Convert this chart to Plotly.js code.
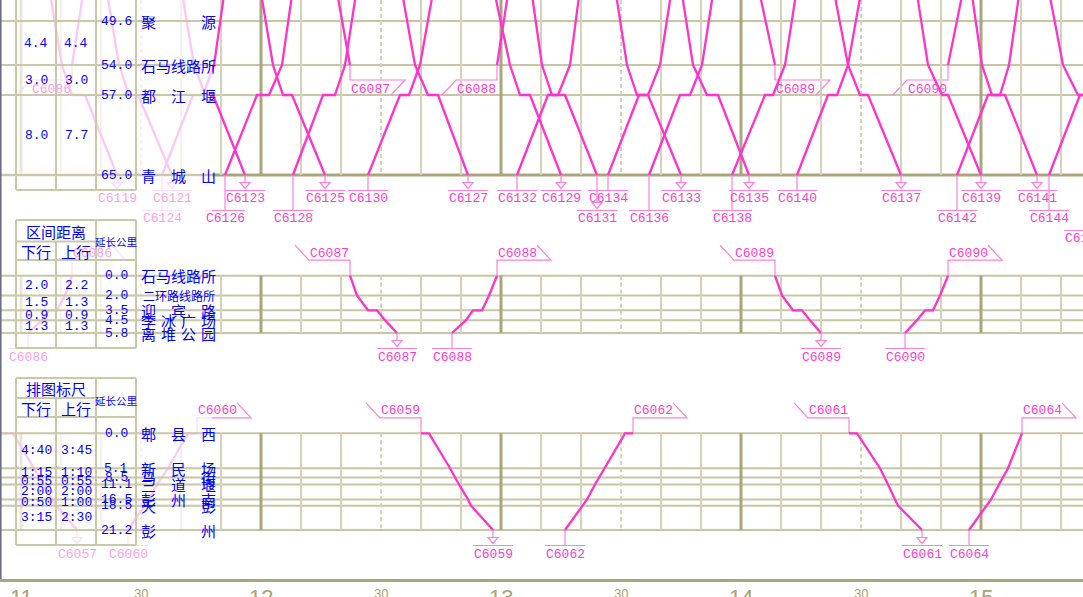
<!DOCTYPE html>
<html>
<head>
<meta charset="utf-8">
<script src="https://cdn.plot.ly/plotly-3.0.1.min.js"></script>
<style>
html,body{margin:0;padding:0;background:#ffffff;overflow:hidden}
#chart{width:1083px;height:597px}
</style>
</head>
<body>
<div id="chart"></div>
<script>
// ======================= DATA =======================
// --- Top panel: 聚源 – 青城山 (km) ---
const topStationNames = ['安德', '聚源', '石马线路所', '都江堰', '青城山'];
const topStationKm    = [45.6, 49.6, 54.0, 57.0, 65.0];
const topDistDown = ['4.4', '3.0', '8.0'];
const topDistUp   = ['4.4', '3.0', '7.7'];
// down trains stop sequence: 安德, 石马线路所, 都江堰(到), 都江堰(发), 青城山
const topDownStops = [0, 2, 3, 3, 4];
const topDownNames = ['C6119','C6121','C6123','C6125','C6127','C6129','C6131','C6133','C6135','C6137','C6139','C6141','C6143'];
const topDownTimes = [
 ['11:06:45','11:10:15','11:12:45','11:16:00','11:24:00'],
 ['11:21:00','11:24:30','11:27:00','11:29:15','11:37:45'],
 ['11:39:45','11:43:15','11:46:00','11:48:00','11:56:00'],
 ['11:59:30','12:03:00','12:05:30','12:07:45','12:16:00'],
 ['12:34:45','12:38:30','12:41:45','12:44:15','12:51:45'],
 ['12:57:45','13:02:15','13:04:45','13:07:15','13:15:00'],
 ['13:07:15','13:10:15','13:12:45','13:16:00','13:24:00'],
 ['13:28:15','13:31:30','13:34:00','13:36:45','13:45:00'],
 ['13:44:45','13:48:00','13:51:30','13:54:15','14:02:00'],
 ['14:22:45','14:26:45','14:29:45','14:31:45','14:40:00'],
 ['14:43:30','14:46:45','14:50:15','14:51:45','15:00:00'],
 ['14:57:15','15:00:15','15:02:45','15:06:00','15:14:00'],
 ['15:16:30','15:20:30','15:24:15','15:26:45','15:34:45']
];
// up trains stop sequence: 青城山, 都江堰(到), 都江堰(发), 石马线路所, 安德
const topUpStops = [4, 3, 3, 2, 0];
const topUpNames = ['C6124','C6126','C6128','C6130','C6132','C6134','C6136','C6138','C6140','C6142','C6144','C6146'];
const topUpTimes = [
 ['11:35:15','11:43:00','11:45:30','11:48:15','11:51:15'],
 ['11:51:00','11:59:00','12:02:00','12:05:15','12:08:15'],
 ['12:08:00','12:15:30','12:18:30','12:21:00','12:24:15'],
 ['12:26:45','12:34:45','12:37:00','12:39:45','12:43:30'],
 ['13:04:00','13:11:45','13:14:15','13:17:15','13:20:00'],
 ['13:26:45','13:34:30','13:36:45','13:39:45','13:43:00'],
 ['13:37:00','13:44:45','13:47:15','13:50:15','13:53:30'],
 ['13:57:45','14:06:00','14:08:00','14:11:00','14:14:15'],
 ['14:14:00','14:21:45','14:24:00','14:26:45','14:30:30'],
 ['14:54:00','15:01:45','15:04:45','15:07:00','15:10:00'],
 ['15:17:00','15:24:45','15:27:15','15:30:15','15:33:30'],
 ['15:25:45','15:33:30','15:36:00','15:39:00','15:42:15']
];
// branch trains (离堆支线) in the top panel
const topBranchDownStops = [0, 2];   // 安德 -> 石马线路所
const topBranchDownNames = ['C6087','C6089'];
const topBranchDownTimes = [['12:18:30','12:22:15'], ['14:04:00','14:08:30']];
const topBranchUpStops = [2, 0];     // 石马线路所 -> 安德
const topBranchUpNames = ['C6086','C6088','C6090'];
const topBranchUpTimes = [['11:12:45','11:16:00'], ['12:59:00','13:02:15'], ['14:51:45','14:56:00']];

// --- Middle panel: 石马线路所 – 离堆公园 (km) ---
const midStationNames = ['石马线路所', '二环路线路所', '迎宾路', '李冰广场', '离堆公园'];
const midStationKm    = [0.0, 2.0, 3.5, 4.5, 5.8];
const midDistDown = ['2.0', '1.5', '0.9', '1.3'];
const midDistUp   = ['2.2', '1.3', '0.9', '1.3'];
const midDownStops = [0, 1, 2, 2, 3, 4];
const midDownNames = ['C6087','C6089'];
const midDownTimes = [
 ['12:22:15','12:24:00','12:26:45','12:29:00','12:31:00','12:34:00'],
 ['14:08:30','14:10:15','14:13:00','14:15:15','14:17:15','14:20:00']
];
const midUpStops = [4, 3, 2, 2, 1, 0];
const midUpNames = ['C6086','C6088','C6090'];
const midUpTimes = [
 ['11:01:45','11:05:15','11:07:00','11:09:00','11:11:00','11:12:45'],
 ['12:47:45','12:51:15','12:53:00','12:55:15','12:57:00','12:59:00'],
 ['14:41:00','14:44:00','14:46:00','14:48:00','14:49:45','14:51:45']
];

// --- Bottom panel: 郫县西 – 彭州 (spaced by 排图标尺) ---
const botStationNames = ['郫县西', '新民场', '马街', '三道堰', '彭州南', '天彭', '彭州'];
const botStationKm    = ['0.0', '5.1', '8.5', '11.1', '16.5', '18.5', '21.2'];
const botRulerDown = ['4:40', '1:15', '0:55', '2:00', '0:50', '3:15'];
const botRulerUp   = ['3:45', '1:10', '0:55', '2:00', '1:00', '2:30'];
const botDownStops = [0, 0, 1, 2, 3, 4, 5, 6];
const botDownNames = ['C6057','C6059','C6061'];
const botDownTimes = [
 ['10:54:00','10:58:00','11:03:15','11:04:30','11:05:30','11:07:45','11:08:45','11:14:00'],
 ['12:40:00','12:42:00','12:47:15','12:48:30','12:49:30','12:51:45','12:52:30','12:58:00'],
 ['14:27:00','14:29:00','14:34:45','14:36:00','14:36:45','14:38:30','14:39:15','14:45:15']
];
const botUpStops = [6, 5, 4, 3, 2, 1, 0, 0];
const botUpNames = ['C6060','C6062','C6064'];
const botUpTimes = [
 ['11:26:45','11:30:45','11:32:00','11:34:00','11:35:15','11:36:45','11:41:45','11:44:00'],
 ['13:16:00','13:20:15','13:21:30','13:23:30','13:24:30','13:26:00','13:31:00','13:33:00'],
 ['14:57:00','15:01:30','15:02:30','15:04:30','15:05:30','15:06:45','15:10:15','15:10:15']
];

// time axis labels
const tickMinutes = [0, 30, 60, 90, 120, 150, 180, 210, 240];
const tickLabels  = ['11', '30', '12', '30', '13', '30', '14', '30', '15'];

// label rows below the terminal station (default row 1)
const labelRow2 = ['C6124','C6126','C6128','C6131','C6136','C6138','C6142','C6143','C6144'];
const labelRow3 = ['C6146'];

// ======================= LAYOUT HELPERS =======================
const W = 1083, H = 597;
const X0 = -5.25, X1 = 265.5;           // minutes after 11:00 at left / right edge
const PXM = W / (X1 - X0);
const tm = s => { const p = s.split(':').map(Number); return (p[0] - 11) * 60 + p[1] + (p[2] || 0) / 60; };
const secs = s => { const p = s.split(':').map(Number); return p[0] * 60 + p[1]; };
const pxOf = m => (m - X0) * PXM;
const pX = px => px / W;
const pY = py => 1 - py / H;

const botY = [0];
botRulerDown.forEach(r => botY.push(botY[botY.length - 1] + secs(r)));

function makePanel(axis, vA, pxA, vB, pxB, pxTop, pxBot) {
  const s = (pxB - pxA) / (vB - vA);
  const p = { axis };
  p.toPx = v => pxA + (v - vA) * s;
  p.paper = v => 1 - p.toPx(v) / H;
  p.vTop = vA + (pxTop - pxA) / s;
  p.vBot = vA + (pxBot - pxA) / s;
  p.domain = [1 - pxBot / H, 1 - pxTop / H];
  p.range = [p.vBot, p.vTop];
  return p;
}
const PT = makePanel('y',  topStationKm[1], 21, topStationKm[4], 175, 0, 179);
const PM = makePanel('y2', midStationKm[0], 275.7, midStationKm[4], 333, 271, 338);
const PB = makePanel('y3', botY[0], 433.3, botY[6], 530, 428, 535);

const TRAIN = '#ff33cc', LABEL = '#ff3dcc', LABEL_FAINT = '#ffa2e2', LABEL_LINE = '#ff80d9';
const BLUE = '#0000ff';
const GRID = '#d5d2b9', GRID_HOUR = '#a9a67c', STATION = '#c8c5a2', TABLE = '#cbc8a8';
const FADE_PX = 212;
const MONO = 'Liberation Mono, DejaVu Sans Mono, monospace';
const CJK = 'Noto Sans CJK SC, sans-serif';

const traces = [], shapes = [], ann = [];
const txt = o => ann.push(Object.assign({ showarrow: false, xanchor: 'center', yanchor: 'middle' }, o));

// ---------- grid ----------
[[PT, PT.vTop, topStationKm[4]], [PM, midStationKm[0], midStationKm[4]], [PB, botY[0], botY[6]]].forEach(([p, a, b]) => {
  for (let m = 0; m <= X1; m += 10) {
    const hour = m % 60 === 0, half = !hour && m % 30 === 0;
    shapes.push({ type: 'line', layer: 'below', xref: 'x', yref: p.axis, x0: m, x1: m, y0: a, y1: b,
      line: { color: hour ? GRID_HOUR : GRID, width: hour ? 3 : 2, dash: half ? '4px,3px' : 'solid' } });
  }
});
function stationLines(p, vals, thickLast) {
  vals.forEach((v, i) => {
    const thick = thickLast && i === vals.length - 1;
    shapes.push({ type: 'line', layer: 'below', xref: 'paper', yref: p.axis, x0: 0, x1: 1, y0: v, y1: v,
      line: { color: thick ? GRID_HOUR : STATION, width: thick ? 3 : 2 } });
  });
}
stationLines(PT, topStationKm.slice(1), true);
stationLines(PM, midStationKm, false);
stationLines(PB, botY, false);

// ---------- trains ----------
function addTrain(p, stops, vals, times) {
  traces.push({ type: 'scatter', mode: 'lines', x: times.map(tm), y: stops.map(i => vals[i]),
    xaxis: 'x', yaxis: p.axis, line: { color: TRAIN, width: 2.3 }, hoverinfo: 'skip', showlegend: false });
}
topDownTimes.forEach(t => addTrain(PT, topDownStops, topStationKm, t));
topUpTimes.forEach(t => addTrain(PT, topUpStops, topStationKm, t));
topBranchDownTimes.forEach(t => addTrain(PT, topBranchDownStops, topStationKm, t));
topBranchUpTimes.forEach(t => addTrain(PT, topBranchUpStops, topStationKm, t));
midDownTimes.forEach(t => addTrain(PM, midDownStops, midStationKm, t));
midUpTimes.forEach(t => addTrain(PM, midUpStops, midStationKm, t));
botDownTimes.forEach(t => addTrain(PB, botDownStops, botY, t));
botUpTimes.forEach(t => addTrain(PB, botUpStops, botY, t));

// ---------- train labels ----------
const rowOf = n => labelRow3.includes(n) ? 3 : (labelRow2.includes(n) ? 2 : 1);
function deco(m, p, v, path) {
  shapes.push({ type: 'path', layer: 'below', xref: 'x', yref: 'paper', xsizemode: 'pixel', ysizemode: 'pixel',
    xanchor: m, yanchor: p.paper(v), path, line: { color: LABEL_LINE, width: 1.2 } });
}
function label(name, m, p, v, dx, dy) {
  const cpx = pxOf(m) + dx;
  if (cpx > W + 18 || cpx < -18) return;          // wholly outside the picture
  let x = m, xs = dx;
  if (m > X1) { xs += (m - X1) * PXM; x = X1; }
  txt({ xref: 'x', x, xshift: xs, yref: 'paper', y: p.paper(v), yshift: dy, text: name,
    font: { family: MONO, size: 13, color: cpx < FADE_PX ? LABEL_FAINT : LABEL } });
}
function endDown(name, m, p, v) {   // ▽ under the terminal station
  const r = rowOf(name), d1 = 7.5 + 20 * (r - 1), ul = 15.5 + 20 * (r - 1);
  deco(m, p, v, `M0,0 L0,${-d1} M-5,${-d1} L5,${-d1} L0,${-d1 - 6} Z M-20,${-ul} L20,${-ul}`);
  label(name, m, p, v, 0, -(ul + 8.5));
}
function startUp(name, m, p, v) {   // stem under the origin station
  const r = rowOf(name), ul = 15.5 + 20 * (r - 1);
  deco(m, p, v, `M0,0 L0,${-ul} M-20,${-ul} L20,${-ul}`);
  label(name, m, p, v, 0, -(ul + 8.5));
}
function flagTopDown(name, m, p, v) {  // flag above the top station, train going down
  deco(m, p, v, 'M0,0 L0,15.5 L-41,15.5 L-55,30.5');
  label(name, m, p, v, -20.5, 22.5);
}
function flagTopUp(name, m, p, v) {    // flag above the top station, train arriving up
  deco(m, p, v, 'M0,0 L0,15.5 L54,15.5 L40,30.5');
  label(name, m, p, v, 20, 22.5);
}
function flagBranchDown(name, m, p, v) { // under 石马线路所, train leaving to branch
  deco(m, p, v, 'M0,0 L0,-15 L55,-15 L41,-30');
  label(name, m, p, v, 20, -24);
}
function flagBranchUp(name, m, p, v) {   // under 石马线路所, train coming from branch
  deco(m, p, v, 'M0,0 L0,-15 L-41,-15 L-55,-30');
  label(name, m, p, v, -20.5, -24);
}
topDownNames.forEach((n, i) => endDown(n, tm(topDownTimes[i][4]), PT, topStationKm[4]));
topUpNames.forEach((n, i) => startUp(n, tm(topUpTimes[i][0]), PT, topStationKm[4]));
topBranchDownNames.forEach((n, i) => flagBranchDown(n, tm(topBranchDownTimes[i][1]), PT, topStationKm[2]));
topBranchUpNames.forEach((n, i) => flagBranchUp(n, tm(topBranchUpTimes[i][0]), PT, topStationKm[2]));
midDownNames.forEach((n, i) => { const t = midDownTimes[i];
  flagTopDown(n, tm(t[0]), PM, midStationKm[0]); endDown(n, tm(t[t.length - 1]), PM, midStationKm[4]); });
midUpNames.forEach((n, i) => { const t = midUpTimes[i];
  startUp(n, tm(t[0]), PM, midStationKm[4]); flagTopUp(n, tm(t[t.length - 1]), PM, midStationKm[0]); });
botDownNames.forEach((n, i) => { const t = botDownTimes[i];
  flagTopDown(n, tm(t[0]), PB, botY[0]); endDown(n, tm(t[t.length - 1]), PB, botY[6]); });
botUpNames.forEach((n, i) => { const t = botUpTimes[i];
  startUp(n, tm(t[0]), PB, botY[6]); flagTopUp(n, tm(t[t.length - 1]), PB, botY[0]); });

// ---------- fade overlay over the left (table) area ----------
shapes.push({ type: 'rect', layer: 'above', xref: 'paper', yref: 'paper', x0: 0, x1: pX(FADE_PX), y0: pY(578), y1: 1,
  fillcolor: 'rgba(255,255,255,0.73)', line: { width: 0 } });
function leftLines(p, vals) {
  vals.forEach(v => shapes.push({ type: 'line', layer: 'above', xref: 'paper', yref: p.axis, x0: 0, x1: pX(FADE_PX), y0: v, y1: v,
    line: { color: TABLE, width: 2 } }));
}
leftLines(PT, topStationKm.slice(1));
leftLines(PM, midStationKm);
leftLines(PB, botY);

// table frame (pixel layout)
const tableSegs = [
  [16,0,16,190],[56,0,56,190],[96,0,96,190],[136,0,136,190],[16,190,136,190],
  [16,220,136,220],[16,220,16,348],[136,220,136,348],[96,220,96,348],[56,241.5,56,348],[16,241.5,96,241.5],[16,260,136,260],[16,348,136,348],
  [16,378,136,378],[16,378,16,545],[136,378,136,545],[96,378,96,545],[56,398,56,545],[16,398,96,398],[16,417,136,417],[16,545,136,545]
];
tableSegs.forEach(s => shapes.push({ type: 'line', layer: 'above', xref: 'paper', yref: 'paper',
  x0: pX(s[0]), y0: pY(s[1]), x1: pX(s[2]), y1: pY(s[3]), line: { color: TABLE, width: 2 } }));
// left border + time axis line
shapes.push({ type: 'line', layer: 'above', xref: 'paper', yref: 'paper', x0: pX(0.8), x1: pX(0.8), y0: pY(581), y1: 1,
  line: { color: '#6e6e86', width: 1.6 } });
shapes.push({ type: 'line', layer: 'above', xref: 'paper', yref: 'paper', x0: 0, x1: 1, y0: pY(580.5), y1: pY(580.5),
  line: { color: GRID_HOUR, width: 3 } });

// ---------- station names / table text ----------
function stationName(name, p, v, size) {
  const ch = [...name], n = ch.length;
  ch.forEach((c, i) => txt({ xref: 'paper', x: pX(n === 1 ? 178.5 : 148.5 + i * 60 / (n - 1)), yref: p.axis, y: v, text: c,
    font: { family: CJK, size, color: BLUE } }));
}
const num = (x, p, v, s, size) => txt({ xref: 'paper', x: pX(x), yref: p.axis, y: v, text: s,
  font: { family: MONO, size: size || 13, color: BLUE } });
const head = (x, y, s, size, fam) => txt({ xref: 'paper', x: pX(x), yref: 'paper', y: pY(y), text: s,
  font: { family: fam || CJK, size, color: BLUE } });

topStationKm.forEach((v, i) => { if (i === 0) return;
  stationName(topStationNames[i], PT, v, 15); num(116, PT, v, v.toFixed(1)); });
topDistDown.forEach((d, i) => { const v = (topStationKm[i + 1] + topStationKm[i + 2]) / 2;
  num(36, PT, v, d); num(76, PT, v, topDistUp[i]); });

midStationKm.forEach((v, i) => { stationName(midStationNames[i], PM, v, midStationNames[i].length > 5 ? 12 : 15);
  num(116, PM, v, v.toFixed(1)); });
midDistDown.forEach((d, i) => { const v = (midStationKm[i] + midStationKm[i + 1]) / 2;
  num(36, PM, v, d); num(76, PM, v, midDistUp[i]); });
head(56, 231, '区间距离', 15); head(36, 251, '下行', 15); head(76, 251, '上行', 15); head(116, 241, '延长公里', 10.5);

botY.forEach((v, i) => { stationName(botStationNames[i], PB, v, 15); num(116, PB, v, botStationKm[i]); });
botRulerDown.forEach((d, i) => { const v = (botY[i] + botY[i + 1]) / 2;
  num(36, PB, v, d); num(76, PB, v, botRulerUp[i]); });
head(56, 388, '排图标尺', 15); head(36, 408, '下行', 15); head(76, 408, '上行', 15); head(116, 400, '延长公里', 10.5);

// ---------- time axis labels ----------
tickMinutes.forEach((m, i) => {
  const hour = m % 60 === 0;
  txt({ xref: 'x', x: m, yref: 'paper', y: pY(hour ? 583 : 584), yanchor: 'top', text: tickLabels[i],
    font: { family: 'Liberation Sans Narrow, Liberation Sans, sans-serif', size: hour ? 22 : 13, color: '#a8a274' } });
});

// ======================= PLOT =======================
const axisBase = { showgrid: false, zeroline: false, showticklabels: false, showline: false, ticks: '', fixedrange: true };
const layout = {
  width: W, height: H, margin: { l: 0, r: 0, t: 0, b: 0, pad: 0 },
  paper_bgcolor: '#ffffff', plot_bgcolor: 'rgba(0,0,0,0)', showlegend: false,
  xaxis: Object.assign({}, axisBase, { domain: [0, 1], range: [X0, X1] }),
  yaxis: Object.assign({}, axisBase, { domain: PT.domain, range: PT.range, anchor: 'x' }),
  yaxis2: Object.assign({}, axisBase, { domain: PM.domain, range: PM.range, anchor: 'x' }),
  yaxis3: Object.assign({}, axisBase, { domain: PB.domain, range: PB.range, anchor: 'x' }),
  shapes, annotations: ann
};
Plotly.newPlot('chart', traces, layout, { displayModeBar: false, staticPlot: true });
</script>
</body>
</html>
